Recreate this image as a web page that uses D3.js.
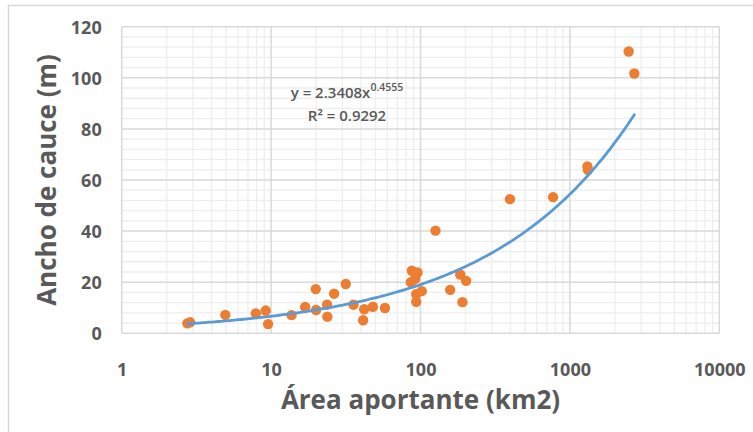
<!DOCTYPE html>
<html>
<head>
<meta charset="utf-8">
<script src="https://cdn.jsdelivr.net/npm/d3@7"></script>
<style>
  body { margin: 0; background: #fff; }
  text { font-family: "Open Sans", sans-serif; fill: #595959; }
</style>
</head>
<body>
<div id="chart"></div>
<script>
// area (km2) and channel width (m)
var area = [2.75, 2.87, 4.94, 7.9, 9.2, 9.55, 13.7, 16.9, 19.9, 20, 23.7, 23.8, 26.4, 31.6, 35.6,
            41.3, 42, 48, 57.8, 87.5, 95.5, 86.2, 92, 93.6, 102, 93.6, 126, 158, 184.5, 202, 191,
            397, 771, 1310, 1320, 2474, 2700]
var ancho = [3.9, 4.3, 7.2, 7.8, 8.9, 3.6, 7.1, 10.3, 17.3, 9.1, 11.2, 6.5, 15.5, 19.3, 11.2,
             5.1, 9.4, 10.4, 9.9, 24.5, 23.8, 20, 21.3, 15.3, 16.5, 12.3, 40.2, 17, 23, 20.5, 12.2,
             52.5, 53.3, 65.3, 64, 110.3, 101.7]
var x_ticks = [1, 10, 100, 1000, 10000]
var y_ticks = [0, 20, 40, 60, 80, 100, 120]
// power trendline shown in the chart
var fit_a = 2.3408, fit_b = 0.4555
var eq_label = "y = 2.3408x", eq_exp = "0.4555", r2_label = "R² = 0.9292"

draw_chart()

function draw_chart() {
    var W = 753, H = 432
    var p_left = 121.7, p_top = 26.7, p_right = 719.3, p_bottom = 333.3

    var svg = d3.select("#chart").append("svg")
        .attr("width", W)
        .attr("height", H)

    // outer chart frame (only top and left edge visible in the crop)
    svg.append("path")
        .attr("d", "M8.5," + H + "V5.5H" + W)
        .attr("fill", "none")
        .attr("stroke", "#d9d9d9")
        .attr("stroke-width", 1.5)

    var x = d3.scaleLog().domain([1, 10000]).range([p_left, p_right])
    var y = d3.scaleLinear().domain([0, 120]).range([p_bottom, p_top])

    var grid = svg.append("g")

    // minor grid
    var x_minor = []
    for (var d = 1; d < 10000; d *= 10) {
        for (var m = 2; m < 10; m++) x_minor.push(d * m)
    }
    var y_minor = d3.range(0, 121, 4).filter(function(v) { return v % 20 != 0 })

    grid.selectAll(".xminor").data(x_minor).enter()
        .append("line")
        .attr("x1", function(d) { return x(d) }).attr("x2", function(d) { return x(d) })
        .attr("y1", p_top).attr("y2", p_bottom)
        .attr("stroke", "#eeeeee").attr("stroke-width", 1.3)
    grid.selectAll(".yminor").data(y_minor).enter()
        .append("line")
        .attr("x1", p_left).attr("x2", p_right)
        .attr("y1", function(d) { return y(d) }).attr("y2", function(d) { return y(d) })
        .attr("stroke", "#eeeeee").attr("stroke-width", 1.3)

    // major grid + plot frame
    grid.selectAll(".xmajor").data(x_ticks).enter()
        .append("line")
        .attr("x1", function(d) { return x(d) }).attr("x2", function(d) { return x(d) })
        .attr("y1", p_top).attr("y2", p_bottom)
        .attr("stroke", "#d9d9d9").attr("stroke-width", 1.5)
    grid.selectAll(".ymajor").data(y_ticks).enter()
        .append("line")
        .attr("x1", p_left).attr("x2", p_right)
        .attr("y1", function(d) { return y(d) }).attr("y2", function(d) { return y(d) })
        .attr("stroke", "#d9d9d9").attr("stroke-width", 1.5)

    // tick labels via d3 axes
    var xAxis = svg.append("g")
        .attr("transform", "translate(0," + p_bottom + ")")
        .call(d3.axisBottom(x).tickValues(x_ticks).tickFormat(d3.format("d")).tickSize(0).tickPadding(36))
    var yAxis = svg.append("g")
        .attr("transform", "translate(" + p_left + ",0)")
        .call(d3.axisLeft(y).tickValues(y_ticks).tickSize(0).tickPadding(20))
    svg.selectAll(".domain").remove()
    svg.selectAll(".tick text")
        .style("font-size", "18px")
        .style("font-weight", "bold")
        .style("font-family", "'Open Sans', sans-serif")
        .attr("fill", "#595959")
        .attr("dy", "0.35em")

    // trendline
    var xs = d3.extent(area)
    var l0 = Math.log10(xs[0]), l1 = Math.log10(xs[1])
    var trend = d3.range(0, 201).map(function(i) {
        var v = Math.pow(10, l0 + (l1 - l0) * i / 200)
        return [v, fit_a * Math.pow(v, fit_b)]
    })

    // points
    var pts = area.map(function(a, i) { return [a, ancho[i]] })
    svg.selectAll(".pt").data(pts).enter()
        .append("circle")
        .attr("cx", function(d) { return x(d[0]) })
        .attr("cy", function(d) { return y(d[1]) })
        .attr("r", 5.2)
        .attr("fill", "#ed7d31")

    svg.append("path")
        .datum(trend)
        .attr("d", d3.line().x(function(d) { return x(d[0]) }).y(function(d) { return y(d[1]) }))
        .attr("fill", "none")
        .attr("stroke", "#5b9bd5")
        .attr("stroke-width", 2.8)
        .attr("stroke-linecap", "round")

    // equation label
    var eq = svg.append("text")
        .attr("x", 347).attr("y", 98)
        .attr("text-anchor", "middle")
        .style("font-size", "15px")
        .style("font-weight", "600")
    eq.append("tspan").text(eq_label)
    eq.append("tspan").text(eq_exp).attr("dy", -7).style("font-size", "10.5px")
    svg.append("text")
        .attr("x", 347).attr("y", 121)
        .attr("text-anchor", "middle")
        .style("font-size", "15px")
        .style("font-weight", "600")
        .text(r2_label)

    // axis titles
    svg.append("text")
        .attr("x", (p_left + p_right) / 2).attr("y", 409)
        .attr("text-anchor", "middle")
        .style("font-size", "26px")
        .style("font-weight", "bold")
        .text("Área aportante (km2)")
    svg.append("text")
        .attr("transform", "translate(56," + (p_top + p_bottom) / 2 + ") rotate(-90)")
        .attr("text-anchor", "middle")
        .style("font-size", "26px")
        .style("font-weight", "bold")
        .text("Ancho de cauce (m)")
}
</script>
</body>
</html>
